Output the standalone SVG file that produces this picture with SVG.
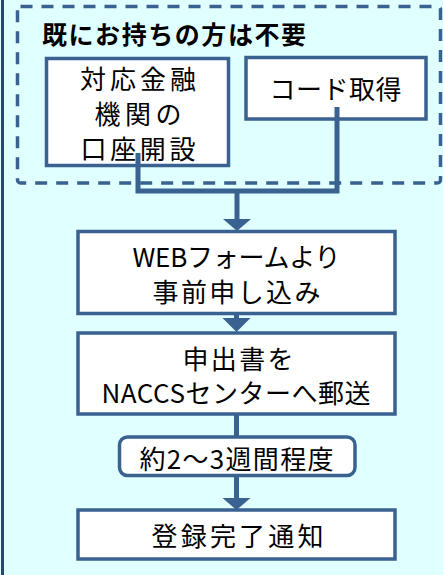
<svg xmlns="http://www.w3.org/2000/svg" width="443" height="575" viewBox="0 0 443 575">
  <style>
    .box { fill: #ffffff; stroke: #3a6291; stroke-width: 3.5; }
    .grp { fill: none; stroke: #3a6291; stroke-width: 3.5; stroke-dasharray: 12 9; }
    .t { font-family: "Noto Sans CJK JP", "Noto Sans", sans-serif; font-size: 26px; fill: #000000; text-anchor: middle; }
    .h { font-family: "Noto Sans CJK JP", "Noto Sans", sans-serif; font-size: 25px; font-weight: bold; fill: #000000; }
    .con { fill: none; stroke: #3a6291; stroke-width: 5; stroke-linejoin: miter; }
    .head { fill: #3a6291; }
  </style>
  <rect x="0" y="0" width="443" height="575" fill="#e0ffff"/>
  <line x1="2.5" y1="0" x2="2.5" y2="575" stroke="#2a4670" stroke-width="3"/>

  <g id="group-existing">
    <rect class="grp" x="17.5" y="6.5" width="423" height="176.5" rx="3"/>
    <text class="h" x="42" y="44" textLength="264" lengthAdjust="spacing">既にお持ちの方は不要</text>
  </g>

  <g id="node-account">
    <rect class="box" x="46.5" y="58.5" width="182" height="107"/>
    <text class="t" x="138" y="88.5" textLength="116" lengthAdjust="spacing">対応金融</text>
    <text class="t" x="138" y="123.5" textLength="87" lengthAdjust="spacing">機関の</text>
    <text class="t" x="138" y="158.5" textLength="115" lengthAdjust="spacing">口座開設</text>
  </g>

  <g id="node-code">
    <rect class="box" x="246" y="57.5" width="180" height="61.5"/>
    <text class="t" x="335.5" y="99" textLength="132" lengthAdjust="spacing">コード取得</text>
  </g>

  <g id="node-web">
    <rect class="box" x="78" y="231.5" width="317" height="82"/>
    <text class="t" x="236.5" y="267" textLength="208" lengthAdjust="spacing">WEBフォームより</text>
    <text class="t" x="236.5" y="301.5" textLength="168" lengthAdjust="spacing">事前申し込み</text>
  </g>

  <g id="node-mail">
    <rect class="box" x="78" y="333" width="317" height="81"/>
    <text class="t" x="238" y="368.5" textLength="111" lengthAdjust="spacing">申出書を</text>
    <text class="t" x="236" y="402.5" textLength="269" lengthAdjust="spacing">NACCSセンターへ郵送</text>
  </g>

  <g id="node-wait">
    <rect class="box" x="119.5" y="437" width="235.5" height="38.5" rx="8"/>
    <text class="t" x="236.5" y="468.5" textLength="194" lengthAdjust="spacing">約2～3週間程度</text>
  </g>

  <g id="node-done">
    <rect class="box" x="78" y="510" width="317" height="49"/>
    <text class="t" x="237.5" y="545.5" textLength="172" lengthAdjust="spacing">登録完了通知</text>
  </g>

  <g id="connectors">
    <polyline class="con" points="138,153 138,191 337,191 337,107"/>
    <line class="con" x1="237" y1="191" x2="237" y2="220"/>
    <polygon class="head" points="223,219 251,219 237,231"/>
    <line class="con" x1="236.5" y1="314" x2="236.5" y2="319"/>
    <polygon class="head" points="222.5,318 250.5,318 236.5,332"/>
    <line class="con" x1="236.5" y1="414" x2="236.5" y2="437"/>
    <line class="con" x1="236.5" y1="475.5" x2="236.5" y2="499"/>
    <polygon class="head" points="222.5,498 250.5,498 236.5,510"/>
  </g>
</svg>
